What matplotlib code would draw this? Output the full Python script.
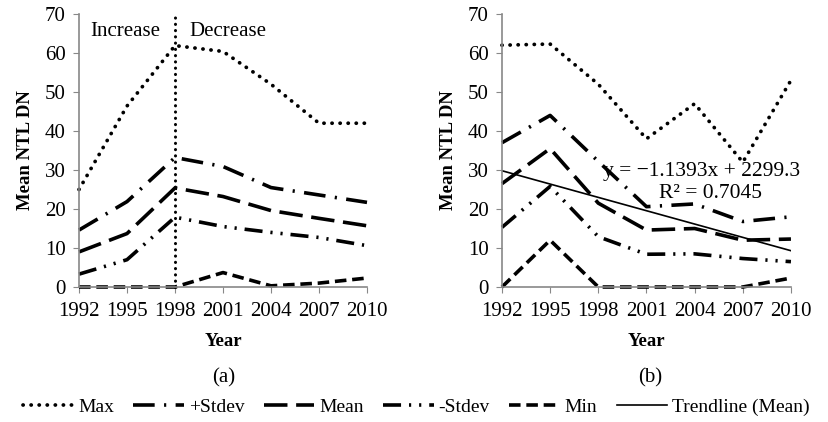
import matplotlib.pyplot as plt

plt.rcParams['font.family'] = ['Liberation Serif', 'DejaVu Serif']

years = [1992, 1995, 1998, 2001, 2004, 2007, 2010]

# panel (a)
a_max = [25, 46.4, 61.9, 60.4, 52, 42, 42]
a_pstd = [14.6, 21.9, 33.2, 30.9, 25.5, 23.6, 21.7]
a_mean = [9.0, 13.7, 25.4, 23.2, 19.6, 17.6, 15.7]
a_mstd = [3.3, 7.0, 17.9, 15.5, 14.0, 12.7, 10.6]
a_min = [0, 0, 0, 3.7, 0.3, 1.0, 2.3]

# panel (b)
b_max = [62, 62.3, 52, 38, 47, 32, 53]
b_pstd = [37, 44, 32.2, 20.6, 21.3, 16.8, 18]
b_mean = [26.5, 35.5, 21.5, 14.6, 15, 12, 12.3]
b_mstd = [15.3, 25.8, 12.9, 8.4, 8.5, 7.3, 6.5]
b_min = [0, 12, 0, 0, 0, 0, 2.3]

# trendline of the mean in (b)
slope, intercept = -1.1393, 2299.3
r2 = 0.7045

labels = ['Max', '+Stdev', 'Mean', '-Stdev', 'Min']
styles = {
    'Max': dict(ls=(0, (0.05, 2.1)), lw=2.7, dash_capstyle='round'),
    '+Stdev': dict(ls=(0, (6, 2.6, 0.6, 2.6)), lw=2.6),
    'Mean': dict(ls=(0, (6.5, 2.4)), lw=2.6),
    '-Stdev': dict(ls=(0, (5, 2.2, 0.6, 2.2, 0.6, 2.2)), lw=2.6),
    'Min': dict(ls=(0, (3.2, 1.6)), lw=2.6),
}

fig = plt.figure(figsize=(8.29, 4.22), dpi=100)
ax1 = fig.add_axes([0.0953, 0.3199, 0.3474, 0.6469])
ax2 = fig.add_axes([0.6055, 0.3199, 0.3486, 0.6469])

handles = []
for ax, series in [(ax1, [a_max, a_pstd, a_mean, a_mstd, a_min]),
                   (ax2, [b_max, b_pstd, b_mean, b_mstd, b_min])]:
    hs = []
    for lab, vals in zip(labels, series):
        h, = ax.plot(years, vals, color='black', label=lab, clip_on=False, **styles[lab])
        hs.append(h)
    handles = hs
    ax.set_xlim(1992, 2010)
    ax.set_ylim(0, 70)
    ax.set_xticks(years)
    ax.set_yticks(range(0, 71, 10))
    ax.tick_params(labelsize=15, color='#888888', length=4.5, direction='out')
    ax.tick_params(axis='y', pad=5)
    ax.tick_params(axis='x', pad=6)
    for s in ['top', 'right']:
        ax.spines[s].set_visible(False)
    for s in ['left', 'bottom']:
        ax.spines[s].set_color('#888888')
        ax.spines[s].set_linewidth(1.2)
    ax.set_xlabel('Year', fontsize=13.5, fontweight='bold', labelpad=9)
    ax.set_ylabel('Mean NTL DN', fontsize=13.5, fontweight='bold', labelpad=8)

# divider in (a)
ax1.axvline(1998, color='black', ls=(0, (0.05, 2.0)), lw=2.2, dash_capstyle='round', clip_on=False)
ax1.text(1994.9, 65.5, 'Increase', ha='center', va='center', fontsize=15)
ax1.text(2001.3, 65.5, 'Decrease', ha='center', va='center', fontsize=15)

tx = [years[0], years[-1]]
ty = [slope * x + intercept for x in tx]
htr, = ax2.plot(tx, ty, color='black', lw=1.2, label='Trendline (Mean)')
ax2.text(2010.6, 29.5, 'y = \u22121.1393x + 2299.3', ha='right', va='center', fontsize=15.5)
ax2.text(2005, 24.1, 'R\u00b2 = %.4f' % r2, ha='center', va='center', fontsize=15.5)

fig.text(0.27, 0.104, '(a)', ha='center', va='center', fontsize=15)
fig.text(0.784, 0.104, '(b)', ha='center', va='center', fontsize=15)

fig.legend(handles + [htr], labels + ['Trendline (Mean)'], loc='center',
           bbox_to_anchor=(0.502, 0.035), ncol=6, frameon=False, fontsize=14,
           handlelength=2.6, handletextpad=0.25, columnspacing=1.0)

fig.savefig('out.png', dpi=100)
